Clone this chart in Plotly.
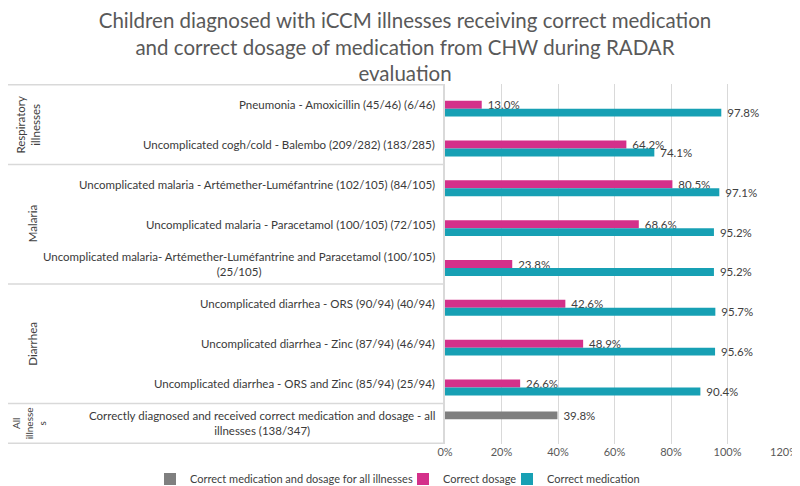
import plotly.graph_objects as go

# ---- data ----
categories = [
    "Pneumonia - Amoxicillin (45/46) (6/46)",
    "Uncomplicated cogh/cold - Balembo (209/282) (183/285)",
    "Uncomplicated malaria - Artémether-Luméfantrine (102/105) (84/105)",
    "Uncomplicated malaria - Paracetamol (100/105) (72/105)",
    "Uncomplicated malaria- Artémether-Luméfantrine and Paracetamol (100/105)<br>(25/105)",
    "Uncomplicated diarrhea - ORS (90/94) (40/94)",
    "Uncomplicated diarrhea - Zinc (87/94) (46/94)",
    "Uncomplicated diarrhea - ORS and Zinc (85/94) (25/94)",
    "Correctly diagnosed and received correct medication and dosage - all<br>illnesses (138/347)",
]
group_labels = ["Respiratory<br>illnesses", "Malaria", "Diarrhea", "All<br>illnesse<br>s"]
group_first = [0, 2, 5, 8]
group_last = [1, 4, 7, 8]

all_illnesses = [None, None, None, None, None, None, None, None, 39.8]
correct_dosage = [13.0, 64.2, 80.5, 68.6, 23.8, 42.6, 48.9, 26.6, None]
correct_medication = [97.8, 74.1, 97.1, 95.2, 95.2, 95.7, 95.6, 90.4, None]

series_names = ["Correct medication and dosage for all illnesses", "Correct dosage", "Correct medication"]
x_ticks = [0, 20, 40, 60, 80, 100, 120]
x_tick_labels = ["0%", "20%", "40%", "60%", "80%", "100%", "120%"]

title_text = ("Children diagnosed with iCCM illnesses receiving correct medication<br>"
              "and correct dosage of medication from CHW during RADAR<br>evaluation")

# ---- styling ----
colors = ["#7f7f7f", "#d4308a", "#17a0b4"]
font_family = "Lato"
text_color = "#404040"
grid_color = "#d9d9d9"

W, H = 792, 478          # page adds an 8px body margin, layout compensates
ML, MR, MT, MB = 437, 16, 76, 42
plot_w = W - ML - MR
plot_h = H - MT - MB

legend_ids = ["legend2", "legend3", "legend4"]
legend_left_px = [142, 395, 499]   # figure px, left edge of each legend box

fig = go.Figure()
for name, vals, col, lid in zip(series_names, [all_illnesses, correct_dosage, correct_medication],
                                colors, legend_ids):
    fig.add_trace(go.Bar(
        name=name, y=categories, x=vals, orientation="h", legend=lid, showlegend=True,
        marker=dict(color=col, line=dict(width=0)),
        text=["" if v is None else "\u00a0" + f"{v:.1f}%" for v in vals],
        textposition="outside", constraintext="none", cliponaxis=False,
        textfont=dict(size=11.5, color=text_color, family=font_family),
    ))

annotations = []
for c in categories:
    annotations.append(dict(
        xref="paper", yref="y", x=0, y=c, xanchor="right", yanchor="middle",
        xshift=-8, align="center", showarrow=False, text=c,
        font=dict(size=11.5, color="#3a3a3a", family=font_family),
    ))

group_x = [20, 24, 25, 21]
group_size = [11.5, 11.5, 11.5, 10]
for lab, a, b, gx, gs in zip(group_labels, group_first, group_last, group_x, group_size):
    annotations.append(dict(
        xref="paper", yref="y", x=0, y=(a + b) / 2, xanchor="center", yanchor="middle",
        xshift=gx - ML, textangle=-90, showarrow=False, text=lab, align="center",
        font=dict(size=gs, color=text_color, family=font_family),
    ))

shapes = []
boundaries = [group_first[0] - 0.5] + [b + 0.5 for b in group_last]
for yb in boundaries:
    shapes.append(dict(type="line", xref="paper", yref="y", x0=-ML / plot_w, x1=0,
                       y0=yb, y1=yb, line=dict(color=grid_color, width=1.5)))

legend_cfg = {}
for lid, lx in zip(legend_ids, legend_left_px):
    legend_cfg[lid] = dict(orientation="h", xref="paper", x=(lx - ML) / plot_w, xanchor="left",
                           yref="paper", y=-35 / plot_h, yanchor="middle", itemwidth=30,
                           font=dict(size=11, color=text_color, family=font_family),
                           bgcolor="rgba(0,0,0,0)", visible=True)

fig.update_layout(
    width=W, height=H, showlegend=True,
    margin=dict(l=ML, r=MR, t=MT, b=MB, autoexpand=False),
    paper_bgcolor="white", plot_bgcolor="white",
    font=dict(family=font_family, color=text_color),
    title=dict(text=title_text, x=397 / W, xanchor="center", y=1, yanchor="top",
               yref="container", pad=dict(t=20),
               font=dict(size=20.5, color="#595959", family=font_family)),
    barmode="group", bargap=0.4, bargroupgap=0,
    xaxis=dict(range=[0, 120], tickmode="array", tickvals=x_ticks, ticktext=x_tick_labels,
               ticklabeloverflow="allow",
               showgrid=True, gridcolor=grid_color, gridwidth=1, zeroline=False, showline=False,
               tickfont=dict(size=11, color="#595959", family=font_family)),
    yaxis=dict(categoryorder="array", categoryarray=categories, autorange="reversed",
               showticklabels=False, showgrid=False, zeroline=False,
               showline=True, linecolor=grid_color, linewidth=1.5),
    annotations=annotations, shapes=shapes,
    **legend_cfg,
)

fig.write_html("out.html")
